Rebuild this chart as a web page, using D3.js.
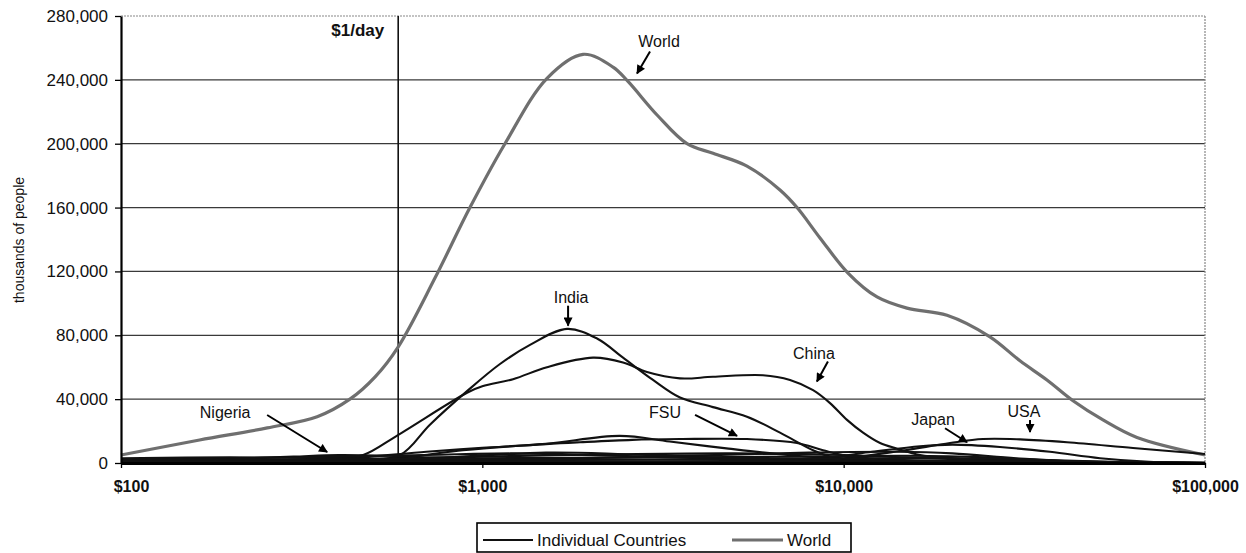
<!DOCTYPE html>
<html><head><meta charset="utf-8">
<script src="https://cdn.jsdelivr.net/npm/d3@7"></script>
<style>
html,body{margin:0;padding:0;background:#fff;}
svg{display:block;font-family:"Liberation Sans",Arial,sans-serif;}
</style></head>
<body><svg id="chart" width="1246" height="553"></svg>
<script>
// ---- data: [income per capita ($), thousands of people] ----
const xTicks = [100, 1000, 10000, 100000];
const xTickLabels = ["$100", "$1,000", "$10,000", "$100,000"];
const yTicks = [0, 40000, 80000, 120000, 160000, 200000, 240000, 280000];
const dollarADay = 585;

const world = [[100,5000],[165,14400],[254,22000],[349,29000],[430,40000],[505,54000],[584,72500],[740,116000],[924,160000],[1155,200000],[1510,241000],[1900,256000],[2300,248000],[2530,239000],[3045,218000],[3685,200000],[4350,194000],[5400,186000],[6665,171000],[7430,160000],[8600,141000],[10280,119000],[12370,104000],[14970,97000],[19320,92500],[25400,79000],[30760,64000],[36530,52000],[43120,39000],[52200,27000],[64830,16000],[100000,5000]];
const india = [[100,200],[300,800],[450,2000],[592,5000],[716,24000],[907,45000],[1119,62000],[1355,74000],[1715,84000],[2077,78000],[2451,66000],[2967,52000],[3524,41000],[4348,35000],[5400,29000],[6665,19000],[8228,8000],[9167,4000],[11830,1500],[20000,500],[100000,0]];
const china = [[100,300],[250,1500],[400,3500],[468,5000],[584,17500],[907,44000],[1000,48000],[1216,52500],[1510,60000],[2025,66000],[2451,63000],[2856,57000],[3524,53000],[4348,54000],[5980,55000],[7105,52000],[8228,45600],[9167,37500],[10215,27000],[11315,19000],[12610,12500],[14050,9000],[16270,5000],[25000,2000],[100000,200]];
const fsu = [[100,200],[300,800],[600,3500],[884,8000],[1300,11000],[1864,13000],[2600,14500],[3524,15000],[5400,15000],[7430,12500],[8766,8000],[10500,4000],[14000,2000],[30000,500],[100000,0]];
const nigeria = [[100,1000],[200,2500],[300,4000],[400,5000],[550,4500],[800,3000],[1200,1500],[2000,500],[5000,100],[100000,0]];
const japan = [[3000,200],[6000,1200],[9000,3500],[12000,7000],[16270,10500],[20000,11500],[27070,10000],[37240,7000],[51220,3000],[70000,800],[100000,200]];
const usa = [[3000,300],[6000,1000],[10000,3000],[14320,7500],[19700,12500],[24300,15000],[30770,14800],[41500,13000],[63200,9400],[100000,5600]];
const otherA = [[150,300],[400,2500],[700,7000],[1000,9500],[1500,12000],[2400,17000],[3300,13500],[4800,9000],[7000,5000],[10000,2500],[20000,500],[100000,0]];
const otherB = [[100,2500],[300,3500],[700,5000],[1200,6000],[2000,5000],[4000,3000],[8000,1500],[20000,300],[100000,0]];
const otherC = [[100,1500],[500,2500],[1000,4000],[2500,5500],[5000,6000],[10000,5000],[15000,3500],[30000,1500],[100000,200]];
const otherD = [[100,500],[1000,2000],[3000,4000],[8000,6500],[14000,7000],[20000,6000],[30000,3000],[45000,800],[100000,0]];
const otherE = [[100,800],[700,3000],[1500,6500],[2500,5500],[5000,3000],[10000,1500],[100000,0]];
const otherF = [[100,3000],[200,3500],[400,3000],[800,2000],[1500,1000],[5000,300],[100000,0]];
const otherG = [[100,1800],[400,2200],[1000,3000],[3000,3500],[8000,4000],[15000,4500],[25000,3500],[40000,1200],[100000,0]];
const otherH = [[100,1200],[300,1500],[1000,1800],[3000,2200],[10000,2800],[20000,3000],[35000,2000],[60000,500],[100000,0]];
const otherI = [[100,600],[1000,900],[5000,1200],[15000,1500],[30000,1200],[60000,400],[100000,0]];

const countries = [india, china, fsu, nigeria, japan, usa, otherA, otherB, otherC, otherD, otherE, otherF, otherG, otherH, otherI];

// annotation arrows: tip in data coords, label/arrow start as pixel offsets from tip
const notes = [
  {text:"World",   tip:[2680,244000], lx:22,  ly:-26, sx:13,  sy:-22},
  {text:"India",   tip:[1727,86000],  lx:3,   ly:-23, sx:0,   sy:-20},
  {text:"China",   tip:[8433,51000],  lx:-3,  ly:-23, sx:11,  sy:-20},
  {text:"FSU",     tip:[5069,17000],  lx:-72, ly:-18, sx:-42, sy:-21},
  {text:"Nigeria", tip:[372,6900],    lx:-102,ly:-34, sx:-60, sy:-37},
  {text:"Japan",   tip:[21950,13000], lx:-34, ly:-17, sx:-22, sy:-14},
  {text:"USA",     tip:[32790,19400], lx:-6,  ly:-15, sx:0,   sy:-12}
];

// ---- drawing ----
const svg = d3.select("#chart");
const L = 121, R = 1205, T = 16, B = 463;
const x = d3.scaleLog().domain([100, 100000]).range([L, R]);
const y = d3.scaleLinear().domain([0, 280000]).range([B, T]);

// gridlines
svg.append("g").selectAll("line").data(yTicks.filter(d => d > 0 && d < 280000)).join("line")
  .attr("x1", L).attr("x2", R).attr("y1", d => y(d)).attr("y2", d => y(d))
  .attr("stroke", "#3a3a3a").attr("stroke-width", 1.3);
// top & right borders (dotted)
svg.append("line").attr("x1", L).attr("x2", R).attr("y1", y(280000)).attr("y2", y(280000))
  .attr("stroke", "#888").attr("stroke-width", 1.2).attr("stroke-dasharray", "2,1");
svg.append("line").attr("x1", R).attr("x2", R).attr("y1", T).attr("y2", B)
  .attr("stroke", "#888").attr("stroke-width", 1.2).attr("stroke-dasharray", "2,1");

// $1/day line
svg.append("line").attr("x1", x(dollarADay)).attr("x2", x(dollarADay)).attr("y1", T).attr("y2", B)
  .attr("stroke", "#111").attr("stroke-width", 1.6);
svg.append("text").attr("x", x(dollarADay) - 14).attr("y", 36).attr("text-anchor", "end")
  .attr("font-size", 17).attr("font-weight", "bold").attr("fill", "#111").text("$1/day");

const line = d3.line().x(d => x(d[0])).y(d => Math.min(B, y(d[1]))).curve(d3.curveCatmullRom.alpha(0.5));

// world curve
svg.append("path").datum(world).attr("d", line).attr("fill", "none")
  .attr("stroke", "#6f6f6f").attr("stroke-width", 3.2);

// country curves
svg.append("g").selectAll("path").data(countries).join("path")
  .attr("d", line).attr("fill", "none").attr("stroke", "#111").attr("stroke-width", 2.1);

// axes
const yAxis = svg.append("g").attr("transform", `translate(${L},0)`)
  .call(d3.axisLeft(y).tickValues(yTicks).tickFormat(d3.format(",")).tickSize(6).tickSizeOuter(0).tickPadding(7));
yAxis.select(".domain").attr("stroke", "#000").attr("stroke-width", 2.2);
yAxis.selectAll(".tick line").attr("stroke", "#000").attr("stroke-width", 1.3);
yAxis.selectAll("text").attr("font-size", 17).attr("fill", "#111").attr("font-family", "Liberation Sans, Arial, sans-serif");

const xAxis = svg.append("g").attr("transform", `translate(0,${B})`)
  .call(d3.axisBottom(x).tickValues(xTicks).tickFormat((d, i) => xTickLabels[i]).tickSize(5).tickSizeOuter(0));
xAxis.select(".domain").attr("stroke", "#000").attr("stroke-width", 3);
xAxis.selectAll(".tick line").attr("stroke", "#000").attr("stroke-width", 1.3);
xAxis.selectAll("text").attr("font-size", 16).attr("font-weight", "bold").attr("fill", "#111")
  .attr("y", 18).attr("font-family", "Liberation Sans, Arial, sans-serif")
  .attr("dx", (d, i) => i === 0 ? 10 : 0);

// y title
svg.append("text").attr("transform", "translate(24,240) rotate(-90)").attr("text-anchor", "middle")
  .attr("font-size", 14).attr("fill", "#111").text("thousands of people");

// arrow marker
svg.append("defs").append("marker").attr("id", "ah").attr("viewBox", "0 0 10 10")
  .attr("refX", 9).attr("refY", 5).attr("markerWidth", 10).attr("markerHeight", 9)
  .attr("markerUnits", "userSpaceOnUse").attr("orient", "auto")
  .append("path").attr("d", "M0,0 L10,5 L0,10 Z").attr("fill", "#000");

const ng = svg.append("g").selectAll("g").data(notes).join("g");
ng.append("line")
  .attr("x1", d => x(d.tip[0]) + d.sx).attr("y1", d => y(d.tip[1]) + d.sy)
  .attr("x2", d => x(d.tip[0])).attr("y2", d => y(d.tip[1]))
  .attr("stroke", "#000").attr("stroke-width", 2).attr("marker-end", "url(#ah)");
ng.append("text")
  .attr("x", d => x(d.tip[0]) + d.lx).attr("y", d => y(d.tip[1]) + d.ly)
  .attr("text-anchor", "middle").attr("font-size", 16).attr("fill", "#111").text(d => d.text);

// legend
const lg = svg.append("g");
lg.append("rect").attr("x", 477).attr("y", 523).attr("width", 374).attr("height", 29)
  .attr("fill", "#fff").attr("stroke", "#000").attr("stroke-width", 1.6);
lg.append("line").attr("x1", 483).attr("x2", 533).attr("y1", 540).attr("y2", 540).attr("stroke", "#111").attr("stroke-width", 2.2);
lg.append("text").attr("x", 537).attr("y", 546).attr("font-size", 17).attr("fill", "#111").text("Individual Countries");
lg.append("line").attr("x1", 732).attr("x2", 783).attr("y1", 540).attr("y2", 540).attr("stroke", "#6f6f6f").attr("stroke-width", 3);
lg.append("text").attr("x", 787).attr("y", 546).attr("font-size", 17).attr("fill", "#111").text("World");
</script></body></html>
